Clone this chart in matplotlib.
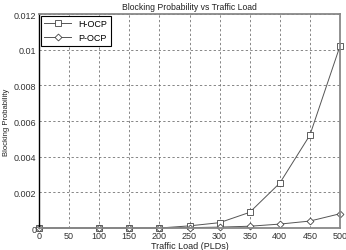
import numpy as np
import matplotlib
matplotlib.use('Agg')
import matplotlib.pyplot as plt

plt.rcParams['font.family'] = ['Liberation Sans', 'DejaVu Sans']

# Data
traffic = [0, 100, 150, 200, 250, 300, 350, 400, 450, 500]
h_ocp = [0, 0, 0, 0, 0.00012, 0.0003, 0.00088, 0.00252, 0.00521, 0.01021]
p_ocp = [0, 0, 0, 0, 0.00002, 0.00005, 0.0001, 0.00022, 0.00039, 0.0008]

xticks = [0, 50, 100, 150, 200, 250, 300, 350, 400, 450, 500]
yticks = [0, 0.002, 0.004, 0.006, 0.008, 0.01, 0.012]
ylabels = ['0', '0.002', '0.004', '0.006', '0.008', '0.01', '0.012']

fig = plt.figure(figsize=(3.46, 2.51), dpi=100)
ax = fig.add_axes([0.1127, 0.0876, 0.87, 0.8524])

ax.plot(traffic, h_ocp, color='#555555', lw=0.7, marker='s', ms=5,
        mfc='white', mec='#444444', mew=0.6, label='H-OCP', clip_on=False)
ax.plot(traffic, p_ocp, color='#555555', lw=0.7, marker='D', ms=3.5,
        mfc='white', mec='#444444', mew=0.6, label='P-OCP', clip_on=False)

ax.set_xlim(0, 500)
ax.set_ylim(0, 0.012)
ax.set_xticks(xticks)
ax.set_yticks(yticks)
ax.set_yticklabels(ylabels)
ax.tick_params(labelsize=6.5, length=0, pad=2, colors='#333333')
ax.grid(True, linestyle=(0, (3, 3)), color='#666666', lw=0.55)

for side in ['top', 'right', 'bottom']:
    ax.spines[side].set_color('#888888')
    ax.spines[side].set_linewidth(1.3)
ax.spines['left'].set_color('black')
ax.spines['left'].set_linewidth(1.0)

ax.set_title('Blocking Probability vs Traffic Load', fontsize=6.2, pad=4,
             color='#222222')
ax.set_xlabel('Traffic Load (PLDs)', fontsize=6.5, labelpad=1, color='#222222')
ax.set_ylabel('Blocking Probability', fontsize=5.5, color='#222222')
ax.yaxis.set_label_coords(-0.095, 0.5)

leg = ax.legend(loc='upper left', fontsize=6.5, fancybox=False, framealpha=1,
                edgecolor='black', borderpad=0.4, handlelength=3,
                borderaxespad=0.2, labelspacing=0.5)
leg.get_frame().set_linewidth(0.8)

fig.savefig('out.png', dpi=100)
